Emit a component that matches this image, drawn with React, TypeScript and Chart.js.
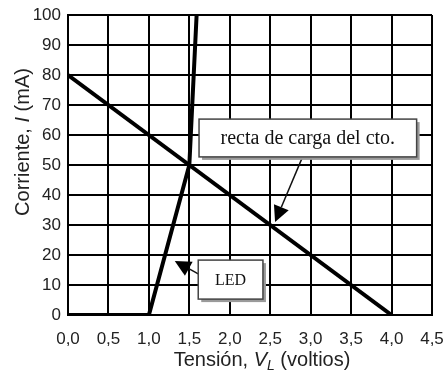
import React, { useEffect, useRef } from "react";
import { Chart, registerables } from "chart.js";

Chart.register(...registerables);

const xTicks = [0, 0.5, 1, 1.5, 2, 2.5, 3, 3.5, 4, 4.5];
const yTicks = [0, 10, 20, 30, 40, 50, 60, 70, 80, 90, 100];
const ledX = [0, 1.0, 1.5, 1.59];
const ledY = [0, 0, 50, 100];
const loadX = [0, 4.0];
const loadY = [80, 0];

const loadLabel = "recta de carga del cto.";
const ledLabel = "LED";
// annotation boxes in data units: [x0, x1, yTop, yBottom]
const loadBox = [1.62, 4.31, 65.3, 52.7];
const loadArrow = [2.9, 52.7, 2.56, 31];
const ledBox = [1.61, 2.41, 18.3, 5.3];
const ledArrow = [1.61, 13.7, 1.32, 18];

const fmt = (v: number) => v.toFixed(1).replace(".", ",");

const annotPlugin = {
  id: "annot",
  afterDatasetsDraw(chart: any) {
    const ctx = chart.ctx;
    const xs = chart.scales.x;
    const ys = chart.scales.y;
    const box = (b: number[], label: string, size: number) => {
      const x0 = xs.getPixelForValue(b[0]);
      const x1 = xs.getPixelForValue(b[1]);
      const y0 = ys.getPixelForValue(b[2]);
      const y1 = ys.getPixelForValue(b[3]);
      ctx.save();
      ctx.fillStyle = "#9a9a9a";
      ctx.fillRect(x0 + 3, y0 + 3, x1 - x0, y1 - y0);
      ctx.fillStyle = "#ffffff";
      ctx.fillRect(x0, y0, x1 - x0, y1 - y0);
      ctx.strokeStyle = "#444";
      ctx.lineWidth = 1.5;
      ctx.strokeRect(x0, y0, x1 - x0, y1 - y0);
      ctx.fillStyle = "#111";
      ctx.font = `${size}px "Liberation Serif", serif`;
      ctx.textAlign = "center";
      ctx.textBaseline = "middle";
      ctx.fillText(label, (x0 + x1) / 2, (y0 + y1) / 2 + 1);
      ctx.restore();
    };
    const arrow = (a: number[]) => {
      const sx = xs.getPixelForValue(a[0]);
      const sy = ys.getPixelForValue(a[1]);
      const tx = xs.getPixelForValue(a[2]);
      const ty = ys.getPixelForValue(a[3]);
      const ang = Math.atan2(ty - sy, tx - sx);
      const hl = 16, hw = 8;
      const bx = tx - hl * Math.cos(ang);
      const by = ty - hl * Math.sin(ang);
      ctx.save();
      ctx.strokeStyle = "#111";
      ctx.lineWidth = 1.5;
      ctx.beginPath();
      ctx.moveTo(sx, sy);
      ctx.lineTo(bx, by);
      ctx.stroke();
      ctx.fillStyle = "#000";
      ctx.beginPath();
      ctx.moveTo(tx, ty);
      ctx.lineTo(bx + hw * Math.sin(ang), by - hw * Math.cos(ang));
      ctx.lineTo(bx - hw * Math.sin(ang), by + hw * Math.cos(ang));
      ctx.closePath();
      ctx.fill();
      ctx.restore();
    };
    arrow(loadArrow);
    arrow(ledArrow);
    box(loadBox, loadLabel, 20);
    box(ledBox, ledLabel, 16);

    // axis titles
    ctx.save();
    ctx.fillStyle = "#222";
    ctx.textBaseline = "alphabetic";
    const normal = '20px "Liberation Sans", Arial, sans-serif';
    const ital = 'italic 20px "Liberation Sans", Arial, sans-serif';
    const small = 'italic 14px "Liberation Sans", Arial, sans-serif';
    // x title
    const parts: [string, string, number][] = [
      ["Tensión, ", normal, 0],
      ["V", ital, 0],
      ["L", small, 4],
      [" (voltios)", normal, 0],
    ];
    let w = 0;
    for (const p of parts) { ctx.font = p[1]; w += ctx.measureText(p[0]).width; }
    let x = 262 - w / 2;
    const yb = 366;
    for (const p of parts) {
      ctx.font = p[1];
      ctx.fillText(p[0], x, yb + p[2]);
      x += ctx.measureText(p[0]).width;
    }
    // y title
    ctx.translate(29, 142);
    ctx.rotate(-Math.PI / 2);
    const yparts: [string, string][] = [
      ["Corriente, ", normal],
      ["I", ital],
      [" (mA)", normal],
    ];
    w = 0;
    for (const p of yparts) { ctx.font = p[1]; w += ctx.measureText(p[0]).width; }
    x = -w / 2;
    for (const p of yparts) {
      ctx.font = p[1];
      ctx.fillText(p[0], x, 0);
      x += ctx.measureText(p[0]).width;
    }
    ctx.restore();
  },
};

export default function App() {
  const ref = useRef<HTMLCanvasElement>(null);
  useEffect(() => {
    if (!ref.current) return;
    const chart = new Chart(ref.current, {
      type: "scatter",
      data: {
        datasets: [
          {
            label: "LED",
            data: ledX.map((v, i) => ({ x: v, y: ledY[i] })),
            showLine: true,
            borderColor: "#000",
            borderWidth: 4,
            pointRadius: 0,
            tension: 0,
          },
          {
            label: loadLabel,
            data: loadX.map((v, i) => ({ x: v, y: loadY[i] })),
            showLine: true,
            borderColor: "#000",
            borderWidth: 4,
            pointRadius: 0,
            tension: 0,
          },
        ],
      },
      options: {
        animation: false,
        responsive: false,
        layout: { padding: { left: 0, top: 15, right: 14, bottom: 0 } },
        plugins: { legend: { display: false }, tooltip: { enabled: false } },
        scales: {
          x: {
            type: "linear",
            min: 0,
            max: 4.5,
            afterBuildTicks: (s: any) => { s.ticks = xTicks.map((v) => ({ value: v })); },
            afterFit: (s: any) => { s.height = 61; s.paddingLeft = 0; s.paddingRight = 0; },
            grid: { color: "#000", lineWidth: 2, drawTicks: false },
            border: { color: "#000", width: 2 },
            ticks: {
              padding: 14,
              color: "#222",
              maxRotation: 0,
              autoSkip: false,
              font: { size: 17, family: '"Liberation Sans", Arial, sans-serif' },
              callback: (v: any) => fmt(Number(v)),
            },
          },
          y: {
            type: "linear",
            min: 0,
            max: 100,
            afterBuildTicks: (s: any) => { s.ticks = yTicks.map((v) => ({ value: v })); },
            afterFit: (s: any) => { s.width = 68; s.paddingTop = 0; s.paddingBottom = 0; },
            grid: { color: "#000", lineWidth: 2, drawTicks: false },
            border: { color: "#000", width: 2 },
            ticks: {
              padding: 7,
              color: "#222",
              font: { size: 17, family: '"Liberation Sans", Arial, sans-serif' },
              callback: (v: any) => String(v),
            },
          },
        },
      },
      plugins: [annotPlugin],
    });
    return () => chart.destroy();
  }, []);
  return (
    <div style={{ position: "absolute", left: 0, top: 0, width: 446, height: 376, background: "#fff" }}>
      <canvas ref={ref} width={446} height={376} />
    </div>
  );
}
